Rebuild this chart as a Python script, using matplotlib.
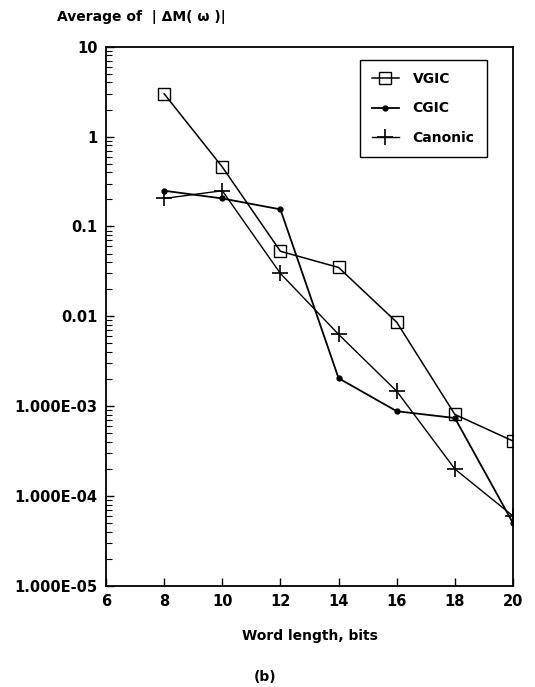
import numpy as np
import matplotlib
matplotlib.use("Agg")
import matplotlib.pyplot as plt
from matplotlib.ticker import LogLocator, NullFormatter, FixedLocator

# word length (bits)
bits = [8, 10, 12, 14, 16, 18, 20]

# average |dM(w)|
vgic = [3.0, 0.46, 0.053, 0.035, 0.0086, 0.00081, 0.00041]
cgic = [0.25, 0.205, 0.155, 0.00205, 0.00088, 0.00074, 0.00005]
canonic = [0.205, 0.25, 0.030, 0.0063, 0.00147, 0.0002, 0.00006]

ytick_vals = [10, 1, 0.1, 0.01, 1e-3, 1e-4, 1e-5]
ytick_txt = ['10', '1', '0.1', '0.01', '1.000E-03', '1.000E-04', '1.000E-05']
xtick_vals = [6, 8, 10, 12, 14, 16, 18, 20]

plt.rcParams['font.family'] = 'DejaVu Sans'
plt.rcParams['font.weight'] = 'bold'
plt.rcParams['font.size'] = 10

fig = plt.figure(figsize=(5.35, 6.87), dpi=100)
ax = fig.add_axes([0.198, 0.147, 0.761, 0.785])

ax.plot(bits, vgic, '-', color='k', lw=1.1, marker='s', ms=8,
        mfc='none', mec='k', mew=1.0, label='VGIC')
ax.plot(bits, cgic, '-', color='k', lw=1.3, marker='o', ms=3.5,
        mfc='k', mec='k', label='CGIC')
ax.plot(bits, canonic, '-', color='k', lw=1.0, marker='+', ms=11,
        mew=1.2, label='Canonic')

ax.set_yscale('log')
ax.set_ylim(1e-5, 10)
ax.set_xlim(6, 20)

ax.yaxis.set_major_locator(FixedLocator(ytick_vals))
ax.set_yticklabels(ytick_txt)
ax.yaxis.set_minor_locator(LogLocator(base=10, subs=np.arange(2, 10), numticks=20))
ax.yaxis.set_minor_formatter(NullFormatter())
ax.set_xticks(xtick_vals)
ax.set_xticklabels([str(v) for v in xtick_vals])

ax.tick_params(axis='both', which='major', direction='in', length=6, width=1.0,
               pad=6, labelsize=10.5)
ax.tick_params(axis='y', which='minor', direction='in', length=4, width=0.8)
for s in ax.spines.values():
    s.set_linewidth(1.3)

ax.set_xlabel('Word length, bits', fontsize=10, fontweight='bold', labelpad=14)

fig.text(57 / 535, 1 - 17 / 687, 'Average of  | ΔM( ω )|', fontsize=10,
         fontweight='bold', va='center', ha='left')
fig.text(265 / 535, 1 - 677 / 687, '(b)', fontsize=10, fontweight='bold',
         va='center', ha='center')

leg = ax.legend(loc='upper right', bbox_to_anchor=(0.936, 0.976),
                fancybox=False, edgecolor='k', framealpha=1,
                handlelength=1.9, handletextpad=1.0, labelspacing=1.1,
                borderpad=0.9, borderaxespad=0, fontsize=10)
leg.get_frame().set_linewidth(1.0)

fig.savefig('out.png', dpi=100)
